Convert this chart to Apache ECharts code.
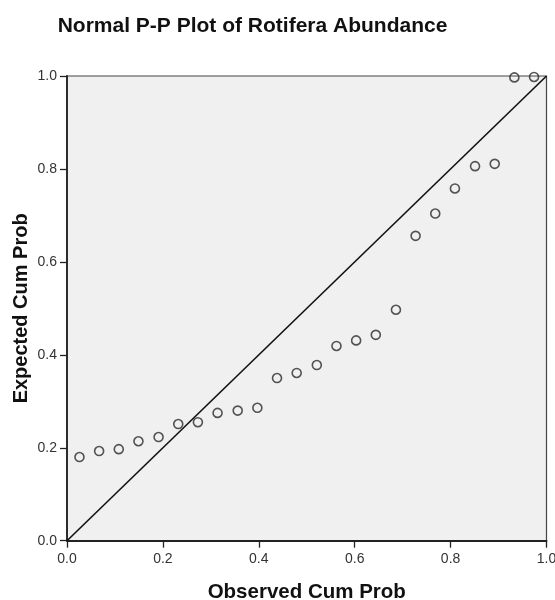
<!DOCTYPE html>
<html>
<head>
<meta charset="utf-8">
<script src="https://cdn.jsdelivr.net/npm/echarts@6/dist/echarts.min.js"></script>
<style>
  html, body { margin: 0; padding: 0; background: #ffffff; }
  #chart { width: 555px; height: 600px; }
</style>
</head>
<body>
<div id="chart"></div>
<script>
// Observed cumulative probability (x) and expected normal cumulative probability (y)
const observedCumProb = [
  0.026, 0.067, 0.108, 0.149, 0.191, 0.232, 0.273, 0.314, 0.356, 0.397, 0.438, 0.479,
  0.521, 0.562, 0.603, 0.644, 0.686, 0.727, 0.768, 0.809, 0.851, 0.892, 0.933, 0.974
];
const expectedCumProb = [
  0.180, 0.193, 0.197, 0.214, 0.223, 0.251, 0.255, 0.275, 0.280, 0.286, 0.350, 0.361,
  0.378, 0.419, 0.431, 0.443, 0.497, 0.656, 0.704, 0.758, 0.806, 0.811, 0.997, 0.998
];
// Reference line endpoints (y = x)
const referenceLine = [[0, 0], [1, 1]];
const tickValues = [0, 0.2, 0.4, 0.6, 0.8, 1.0];

const points = observedCumProb.map((x, i) => [x, expectedCumProb[i]]);
const FONT = '"Liberation Sans", Arial, sans-serif';

const chart = echarts.init(document.getElementById('chart'), null, { renderer: 'canvas' });

const axisCommon = {
  type: 'value',
  min: tickValues[0],
  max: tickValues[tickValues.length - 1],
  interval: 0.2,
  nameLocation: 'middle',
  nameMoveOverlap: false,
  nameTextStyle: { fontFamily: FONT, fontWeight: 'bold', fontSize: 20.5, color: '#111' },
  axisLine: { show: true, lineStyle: { color: '#222', width: 1.8 } },
  axisTick: { show: true, inside: false, length: 7, lineStyle: { color: '#222', width: 1.3 } },
  axisLabel: {
    fontFamily: FONT, fontSize: 14, color: '#333', margin: 10,
    formatter: v => v.toFixed(1)
  },
  splitLine: { show: false }
};

chart.setOption({
  animation: false,
  backgroundColor: '#ffffff',
  title: {
    text: 'Normal P-P Plot of Rotifera Abundance',
    left: 252.5,
    top: 16,
    padding: 0,
    textAlign: 'center',
    textStyle: { fontFamily: FONT, fontWeight: 'bold', fontSize: 21, color: '#111' }
  },
  grid: {
    left: 67, right: 8.5, top: 76, bottom: 59.3,
    outerBoundsMode: 'none',
    containLabel: false,
    show: true,
    backgroundColor: '#f0f0f0',
    borderColor: '#444',
    borderWidth: 1.2
  },
  xAxis: Object.assign({}, axisCommon, {
    name: 'Observed Cum Prob',
    nameGap: 41,
    axisLabel: Object.assign({}, axisCommon.axisLabel, { margin: 11 })
  }),
  yAxis: Object.assign({}, axisCommon, {
    name: 'Expected Cum Prob',
    nameGap: 36,
    nameTextStyle: Object.assign({}, axisCommon.nameTextStyle, { fontSize: 20 })
  }),
  series: [
    {
      type: 'line',
      data: referenceLine,
      symbol: 'none',
      lineStyle: { color: '#111', width: 1.6 },
      silent: true,
      z: 2
    },
    {
      type: 'scatter',
      data: points,
      symbol: 'circle',
      symbolSize: 9,
      clip: false,
      itemStyle: { color: 'rgba(0,0,0,0)', borderColor: '#2a2a2a', borderWidth: 1.6 },
      z: 3
    }
  ]
});
</script>
</body>
</html>
